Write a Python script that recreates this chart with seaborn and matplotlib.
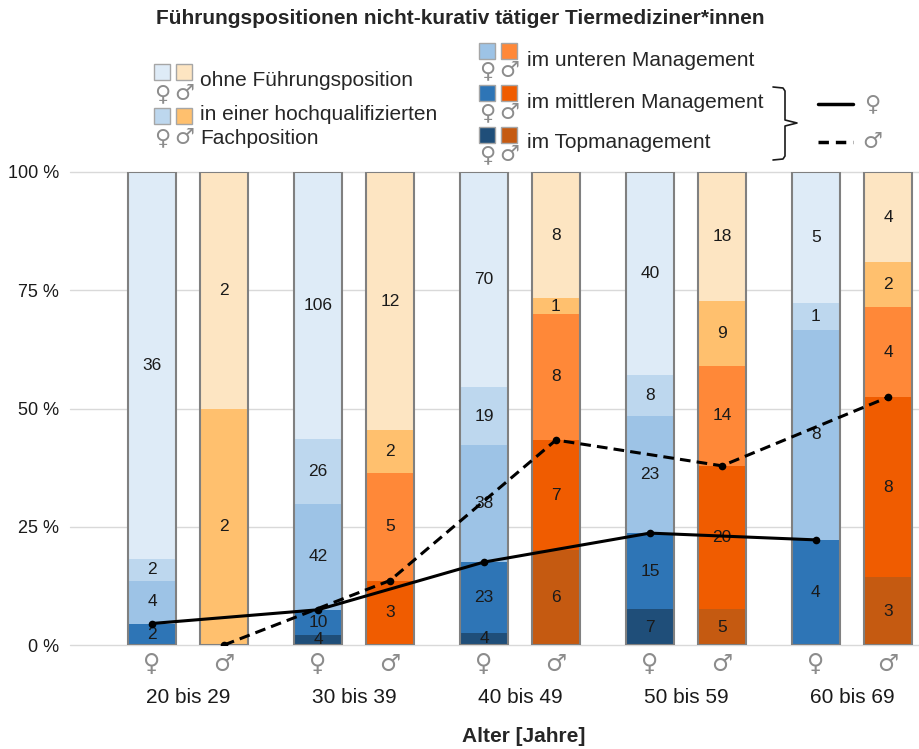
import numpy as np
import pandas as pd
import seaborn as sns
import matplotlib.pyplot as plt
from matplotlib.patches import Rectangle
from matplotlib.lines import Line2D

# Anzahl je Altersgruppe und Position
groups = ["20 bis 29", "30 bis 39", "40 bis 49", "50 bis 59", "60 bis 69"]
levels = ["im Topmanagement", "im mittleren Management", "im unteren Management",
          "in einer hochqualifizierten Fachposition", "ohne Führungsposition"]

f_top = [0, 4, 4, 7, 0]
f_mid = [2, 10, 23, 15, 4]
f_low = [4, 42, 38, 23, 8]
f_fach = [2, 26, 19, 8, 1]
f_ohne = [36, 106, 70, 40, 5]

m_top = [0, 0, 6, 5, 3]
m_mid = [0, 3, 7, 20, 8]
m_low = [0, 5, 8, 14, 4]
m_fach = [2, 2, 1, 9, 2]
m_ohne = [2, 12, 8, 18, 4]

f_colors = ["#1f4e79", "#2e75b6", "#9dc3e6", "#bdd7ee", "#deebf7"]
m_colors = ["#c55a11", "#f05c00", "#ff8838", "#ffc06e", "#fde5c2"]

sns.set_theme(style="white")
plt.rcParams['font.family'] = ['Liberation Sans', 'DejaVu Sans']
SYM = ["DejaVu Sans"]
SYM_COLOR = "#8c8c8c"

fig = plt.figure(figsize=(9.2, 7.49), dpi=100)
W, H = 920, 749


def fx(x):
    return x / W


def fy(y):
    return 1 - y / H


ax = fig.add_axes([fx(70), fy(645), 850 / W, 473 / H])
ax.set_xlim(-0.711, 4.41)
ax.set_ylim(0, 1)
for v in [0, 0.25, 0.5, 0.75, 1.0]:
    ax.axhline(v, color="#d9d9d9", lw=1, zorder=0, clip_on=False)
sns.despine(ax=ax, left=True, bottom=True)

off = 0.217
bw = 0.29
x = np.arange(len(groups))

for stack, colors, xpos in [
    ([f_top, f_mid, f_low, f_fach, f_ohne], f_colors, x - off),
    ([m_top, m_mid, m_low, m_fach, m_ohne], m_colors, x + off),
]:
    counts = np.array(stack, dtype=float)
    totals = counts.sum(axis=0)
    shares = counts / totals
    bottom = np.zeros(len(groups))
    for k in range(len(levels)):
        ax.bar(xpos, shares[k], bw, bottom=bottom, color=colors[k], lw=0, zorder=2)
        for i in range(len(groups)):
            if counts[k, i] > 0:
                ax.text(xpos[i], bottom[i] + shares[k, i] / 2, f"{int(counts[k, i])}",
                        ha="center", va="center", fontsize=12.5, color="#1a1a1a", zorder=3)
        bottom += shares[k]
    ax.bar(xpos, np.ones(len(groups)), bw, facecolor="none", edgecolor="#808080",
           lw=1.5, zorder=4)

# Linien: Anteil mittleres + Topmanagement
f_tot = np.array(f_top) + np.array(f_mid) + np.array(f_low) + np.array(f_fach) + np.array(f_ohne)
m_tot = np.array(m_top) + np.array(m_mid) + np.array(m_low) + np.array(m_fach) + np.array(m_ohne)
df_line = pd.DataFrame({
    "x": np.concatenate([x - off, x + off]),
    "share": np.concatenate([(np.array(f_top) + np.array(f_mid)) / f_tot,
                             (np.array(m_top) + np.array(m_mid)) / m_tot]),
    "sex": ["f"] * len(groups) + ["m"] * len(groups),
})
sns.lineplot(data=df_line[df_line.sex == "f"], x="x", y="share", color="black", lw=2.2,
             marker="o", markersize=5.5, markeredgewidth=0, ax=ax, zorder=5)
sns.lineplot(data=df_line[df_line.sex == "m"], x="x", y="share", color="black", lw=2.2,
             linestyle=(0, (3.5, 2)), marker="o", markersize=5.5, markeredgewidth=0,
             ax=ax, zorder=5)

ax.set_xlabel("")
ax.set_ylabel("")
ax.set_yticks([0, 0.25, 0.5, 0.75, 1.0])
ax.set_yticklabels(["0 %", "25 %", "50 %", "75 %", "100 %"], fontsize=13, color="#1a1a1a")
ax.set_xticks(np.concatenate([x - off, x + off]))
ax.set_xticklabels(["♀"] * len(groups) + ["♂"] * len(groups), fontsize=17, color=SYM_COLOR,
                   family=SYM)
ax.tick_params(axis="both", length=0)
ax.tick_params(axis="y", pad=8)
ax.tick_params(axis="x", pad=5)

for i, g in enumerate(groups):
    ax.text(x[i], -0.112, g, transform=ax.get_xaxis_transform(), ha="center", va="center",
            fontsize=15, color="#1a1a1a")

fig.text(fx(460), fy(19), "Führungspositionen nicht-kurativ tätiger Tiermediziner*innen",
         ha="center", va="center", fontsize=15, fontweight="bold")
fig.text(fx(524), fy(737), "Alter [Jahre]", ha="center", va="center", fontsize=15,
         fontweight="bold")

# Legende
def square(x0, y0, color):
    fig.patches.append(Rectangle((fx(x0), fy(y0 + 16)), 16 / W, 16 / H, facecolor=color,
                                 edgecolor="#a6a6a6", lw=1, transform=fig.transFigure))


def symbols(x0, y0):
    fig.text(fx(x0 + 8), fy(y0), "♀", ha="center", va="center", fontsize=16,
             color=SYM_COLOR, family=SYM)
    fig.text(fx(x0 + 30), fy(y0), "♂", ha="center", va="center", fontsize=16,
             color=SYM_COLOR, family=SYM)


leg_left = [(64, f_colors[4], m_colors[4]), (108, f_colors[3], m_colors[3])]
for y0, fc, mc in leg_left:
    square(154, y0, fc)
    square(176, y0, mc)
    symbols(154, y0 + 30)
fig.text(fx(200), fy(81), "ohne Führungsposition", ha="left", va="center", fontsize=15)
fig.text(fx(200), fy(114), "in einer hochqualifizierten", ha="left", va="center", fontsize=15)
fig.text(fx(200), fy(138), "Fachposition", ha="left", va="center", fontsize=15)

leg_right = [(43, 2, "im unteren Management", 61),
             (85, 1, "im mittleren Management", 102),
             (127, 0, "im Topmanagement", 142)]
for y0, k, label, ty in leg_right:
    square(479, y0, f_colors[k])
    square(501, y0, m_colors[k])
    symbols(479, y0 + 28)
    fig.text(fx(527), fy(ty), label, ha="left", va="center", fontsize=15)

fig.add_artist(Line2D([fx(v) for v in [773, 783, 785, 785, 797, 785, 785, 783, 773]],
                      [fy(v) for v in [87, 88, 91, 120, 123, 126, 156, 159, 160]],
                      color="#1a1a1a", lw=1.2, transform=fig.transFigure))
fig.add_artist(Line2D([fx(818), fx(853)], [fy(104), fy(104)], color="black", lw=2.5,
                      transform=fig.transFigure))
fig.add_artist(Line2D([fx(818), fx(853)], [fy(142), fy(142)], color="black", lw=2.5,
                      linestyle=(0, (3, 2)), transform=fig.transFigure))
fig.text(fx(872), fy(104), "♀", ha="center", va="center", fontsize=16, color=SYM_COLOR,
         family=SYM)
fig.text(fx(872), fy(142), "♂", ha="center", va="center", fontsize=16, color=SYM_COLOR,
         family=SYM)

fig.savefig("out.png", dpi=100)
